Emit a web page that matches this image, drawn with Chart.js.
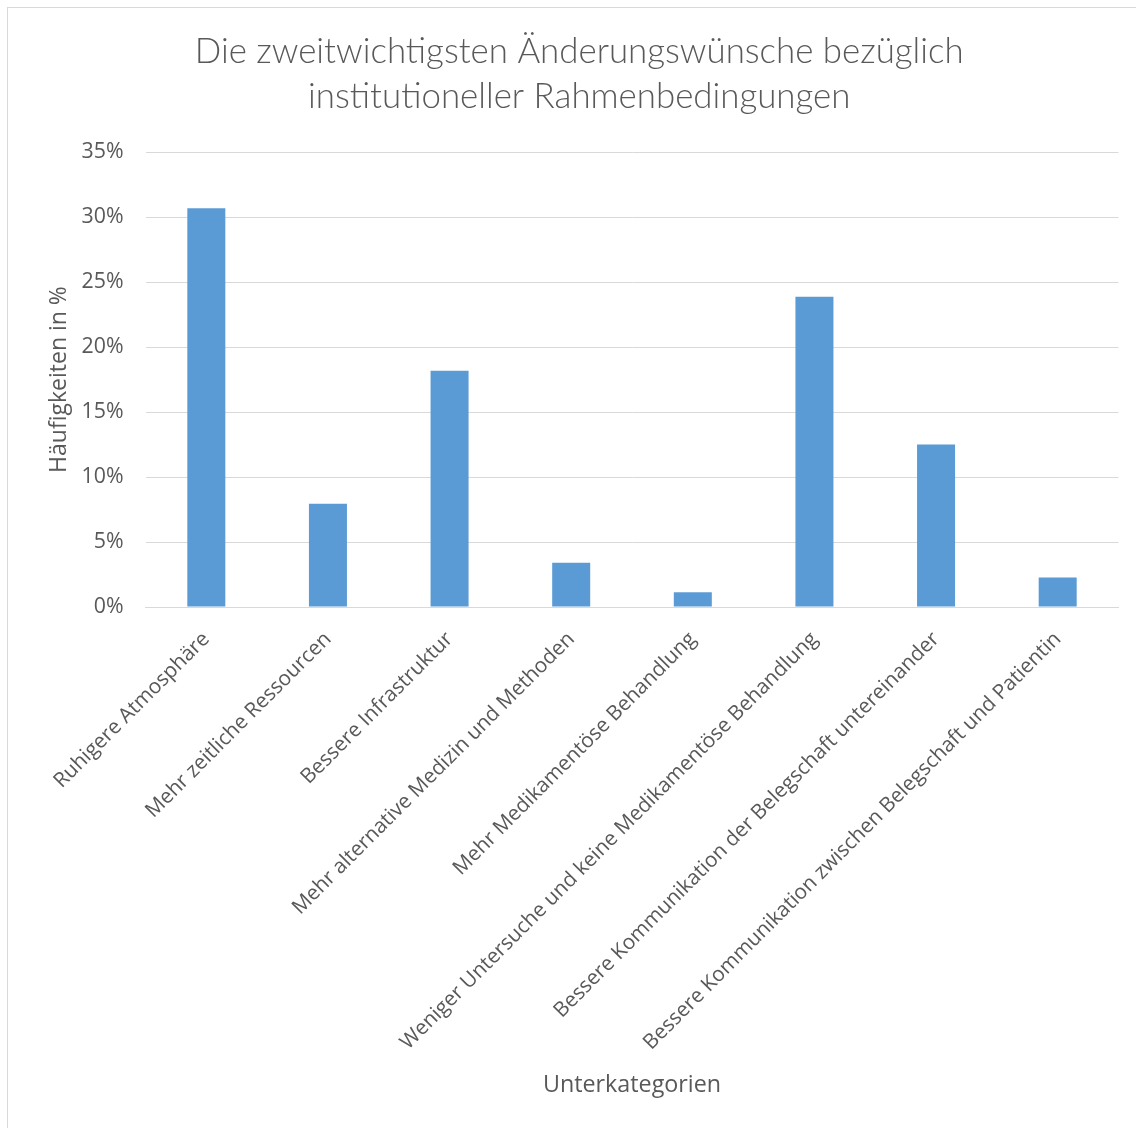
<!DOCTYPE html>
<html>
<head>
<meta charset="utf-8">
<script src="https://cdn.jsdelivr.net/npm/chart.js@4/dist/chart.umd.min.js"></script>
<style>
  html, body { margin: 0; padding: 0; background: #ffffff; }
  #wrap { position: relative; width: 1136px; height: 1128px; overflow: hidden; }
  #frame { position: absolute; left: 7px; top: 7px; width: 1200px; height: 1200px; border: 1px solid #d9d9d9; box-sizing: border-box; }
  #box { position: absolute; left: 0; top: 0; width: 1136px; height: 1128px; }
</style>
</head>
<body>
<div id="wrap">
  <div id="frame"></div>
  <div id="box"><canvas id="c"></canvas></div>
</div>
<script>
const titleLines = ["Die zweitwichtigsten Änderungswünsche bezüglich", "institutioneller Rahmenbedingungen"];
const categories = [
  "Ruhigere Atmosphäre",
  "Mehr zeitliche Ressourcen",
  "Bessere Infrastruktur",
  "Mehr alternative Medizin und Methoden",
  "Mehr Medikamentöse Behandlung",
  "Weniger Untersuche und keine Medikamentöse Behandlung",
  "Bessere Kommunikation der Belegschaft untereinander",
  "Bessere Kommunikation zwischen Belegschaft und Patientin"
];
const values = [30.68, 7.95, 18.18, 3.41, 1.14, 23.86, 12.50, 2.27];
const yTickValues = [0, 5, 10, 15, 20, 25, 30, 35];
const yAxisTitle = "Häufigkeiten in %";
const xAxisTitle = "Unterkategorien";

const textColor = "#595959";
const gridColor = "#d9d9d9";

// fit title font size to the reference width of the first line
const mctx = document.createElement("canvas").getContext("2d");
mctx.font = "300 100px Lato";
const w100 = mctx.measureText(titleLines[0]).width;
const titleSize = Math.max(24, Math.min(40, 100 * 769 / w100));

new Chart(document.getElementById("c"), {
  type: "bar",
  data: {
    labels: categories,
    datasets: [{
      data: values,
      backgroundColor: "#5b9bd5",
      borderWidth: 0,
      barPercentage: 0.3125,
      categoryPercentage: 1.0
    }]
  },
  options: {
    responsive: true,
    maintainAspectRatio: false,
    animation: false,
    layout: { padding: { left: 40, right: 17.5, top: 8, bottom: 29 } },
    plugins: {
      legend: { display: false },
      tooltip: { enabled: false },
      title: {
        display: true,
        text: titleLines,
        color: textColor,
        font: { family: "Lato", size: titleSize, weight: "300", lineHeight: 45 / titleSize },
        padding: { top: 21.5, bottom: 32.5 }
      }
    },
    scales: {
      x: {
        grid: { display: false, drawTicks: false },
        border: { display: true, color: gridColor, width: 1 },
        ticks: {
          color: textColor,
          font: { family: "Open Sans", size: 20.7 },
          maxRotation: 45,
          minRotation: 45,
          autoSkip: false,
          padding: 20
        },
        title: {
          display: true,
          text: xAxisTitle,
          color: textColor,
          font: { family: "Open Sans", size: 23.3, lineHeight: 1.2 },
          padding: { top: 0, bottom: 0 }
        },
        afterFit: (s) => { s.height = 1099 - 607; }
      },
      y: {
        min: 0,
        max: 35,
        afterBuildTicks: (s) => { s.ticks = yTickValues.map(v => ({ value: v })); },
        grid: { color: gridColor, lineWidth: 1, drawTicks: false },
        border: { display: false },
        ticks: {
          color: textColor,
          font: { family: "Open Sans", size: 21.3 },
          padding: 22,
          callback: (v) => v + "%"
        },
        title: {
          display: true,
          text: yAxisTitle,
          color: textColor,
          font: { family: "Open Sans", size: 23, lineHeight: 1.2 },
          padding: { top: 5.2, bottom: 0 }
        },
        afterFit: (s) => { s.width = 145.5 - 40; }
      }
    }
  }
});
</script>
</body>
</html>
